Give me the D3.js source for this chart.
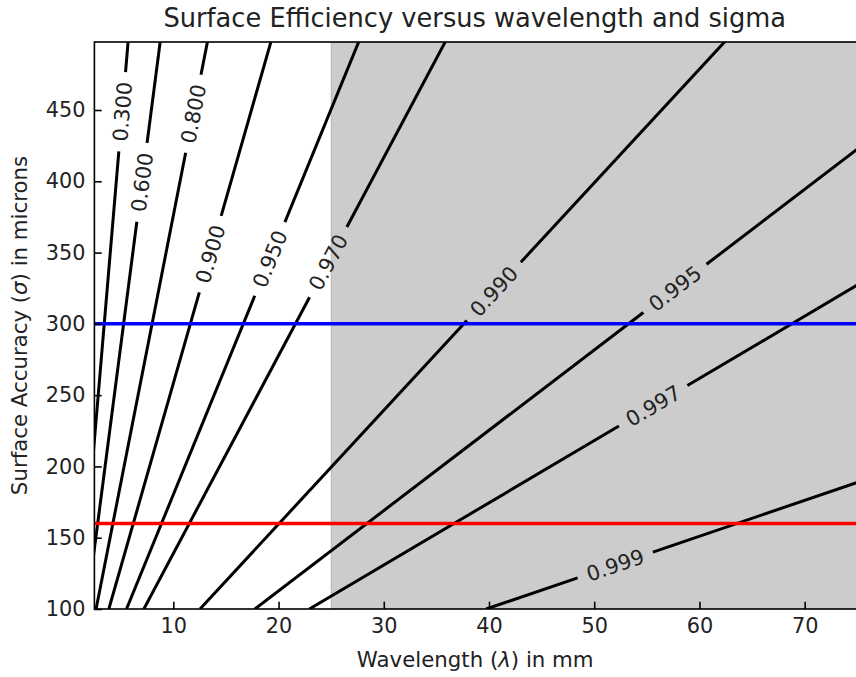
<!DOCTYPE html>
<html lang="en">
<head>
<meta charset="UTF-8">
<title>Surface Efficiency</title>
<script src="https://d3js.org/d3.v7.min.js"></script>
<style>
  html, body { margin: 0; padding: 0; background: #fff; overflow: hidden; }
  svg { display: block; font-family: "DejaVu Sans", sans-serif; }
</style>
</head>
<body>
<svg id="chart" width="856" height="677"></svg>
<script>
    // contour levels and where each straight contour crosses sigma=100 and sigma=500 (lambda, mm)
    const levels = [0.3, 0.6, 0.8, 0.9, 0.95, 0.97, 0.99, 0.995, 0.997, 0.999];
    const lambdaAt100 = [1.145, 1.758, 2.66, 3.871, 5.549, 7.2, 12.535, 17.75, 22.93, 39.73];
    const lambdaAt500 = [5.726, 8.791, 13.3, 19.36, 27.74, 36.0, 62.67, 88.75, 114.6, 198.6];
    // wavelength where each contour label sits
    const labelLambda = [5.14, 7.02, 11.9, 13.51, 19.17, 24.72, 40.46, 57.67, 55.6, 52.0];

    const xTicks = [10, 20, 30, 40, 50, 60, 70];
    const yTicks = [100, 150, 200, 250, 300, 350, 400, 450];
    const shadeRange = [25, 75];
    const blueSigma = 300;
    const redSigma = 160;

    const svg = d3.select("#chart");
    const pLeft = 94.4, pRight = 857.3, pTop = 42, pBottom = 609;

    const x = d3.scaleLinear().domain([2.5, 75]).range([pLeft, pRight]);
    const y = d3.scaleLinear().domain([100, 497.7]).range([pBottom, pTop]);

    svg.append("defs").append("clipPath").attr("id", "plotClip")
        .append("rect").attr("x", pLeft).attr("y", pTop)
        .attr("width", pRight - pLeft).attr("height", pBottom - pTop);

    const plot = svg.append("g").attr("clip-path", "url(#plotClip)");

    // shaded band
    plot.append("rect")
        .attr("x", x(shadeRange[0]))
        .attr("y", pTop)
        .attr("width", x(shadeRange[1]) - x(shadeRange[0]))
        .attr("height", pBottom - pTop)
        .attr("fill", "#cccccc")
        .attr("stroke", "rgba(128,128,128,0.4)")
        .attr("stroke-width", 1);

    const line = d3.line().x(d => x(d[0])).y(d => y(d[1]));

    // contours with inline labels
    levels.forEach((lev, i) => {
        const a = [lambdaAt100[i], 100], b = [lambdaAt500[i], 500];
        const px0 = [x(a[0]), y(a[1])], px1 = [x(b[0]), y(b[1])];
        const len = Math.hypot(px1[0] - px0[0], px1[1] - px0[1]);
        const u = [(px1[0] - px0[0]) / len, (px1[1] - px0[1]) / len];
        const t = (labelLambda[i] - a[0]) / (b[0] - a[0]);
        const sL = a[1] + t * (b[1] - a[1]);
        const c = [x(labelLambda[i]), y(sL)];
        const angle = Math.atan2(u[1], u[0]) * 180 / Math.PI;

        const label = plot.append("text")
            .attr("transform", `translate(${c[0]},${c[1]}) rotate(${angle})`)
            .attr("text-anchor", "middle")
            .attr("dy", "0.36em")
            .attr("font-size", 20.8)
            .attr("fill", "#222")
            .text(lev.toFixed(3));

        const half = label.node().getComputedTextLength() / 2 + 10;
        const g0 = [x.invert(c[0] - u[0] * half), y.invert(c[1] - u[1] * half)];
        const g1 = [x.invert(c[0] + u[0] * half), y.invert(c[1] + u[1] * half)];

        [[a, g0], [g1, b]].forEach(seg => {
            plot.append("path")
                .attr("d", line(seg))
                .attr("fill", "none")
                .attr("stroke", "#000")
                .attr("stroke-width", 3);
        });
    });

    // horizontal reference lines
    [[blueSigma, "#0000ff"], [redSigma, "#ff0000"]].forEach(([s, col]) => {
        plot.append("path")
            .attr("d", line([[2.5, s], [75, s]]))
            .attr("stroke", col)
            .attr("stroke-width", 3.5)
            .attr("fill", "none");
    });

    // axes (ticks inward)
    const xAxis = svg.append("g")
        .attr("transform", `translate(0,${pBottom})`)
        .call(d3.axisBottom(x).tickValues(xTicks).tickSizeInner(-7.3).tickSizeOuter(0).tickPadding(9.5));
    const yAxis = svg.append("g")
        .attr("transform", `translate(${pLeft},0)`)
        .call(d3.axisLeft(y).tickValues(yTicks).tickSizeInner(-7.3).tickSizeOuter(0).tickPadding(9));

    [xAxis, yAxis].forEach(ax => {
        ax.select(".domain").remove();
        ax.selectAll("line").attr("stroke", "#000").attr("stroke-width", 1.6);
        ax.selectAll("text").attr("font-size", 20.8).attr("fill", "#222")
            .attr("font-family", "DejaVu Sans, sans-serif");
    });

    // spines
    svg.append("rect")
        .attr("x", pLeft).attr("y", pTop)
        .attr("width", pRight - pLeft).attr("height", pBottom - pTop)
        .attr("fill", "none").attr("stroke", "#000").attr("stroke-width", 1.6);

    // title and axis labels
    svg.append("text")
        .attr("x", (pLeft + 856) / 2 - 0.5).attr("y", 27)
        .attr("text-anchor", "middle")
        .attr("font-size", 25.7)
        .attr("fill", "#222")
        .text("Surface Efficiency versus wavelength and sigma");

    const xl = svg.append("text")
        .attr("x", (pLeft + 856) / 2).attr("y", 667)
        .attr("text-anchor", "middle")
        .attr("font-size", 21.3)
        .attr("fill", "#222");
    xl.append("tspan").text("Wavelength (");
    xl.append("tspan").attr("font-style", "italic").text("λ");
    xl.append("tspan").text(") in mm");

    const yl = svg.append("text")
        .attr("transform", `translate(27,${(pTop + pBottom) / 2}) rotate(-90)`)
        .attr("text-anchor", "middle")
        .attr("font-size", 21.3)
        .attr("fill", "#222");
    yl.append("tspan").text("Surface Accuracy (");
    yl.append("tspan").attr("font-style", "italic").text("σ");
    yl.append("tspan").text(") in microns");
</script>
</body>
</html>
